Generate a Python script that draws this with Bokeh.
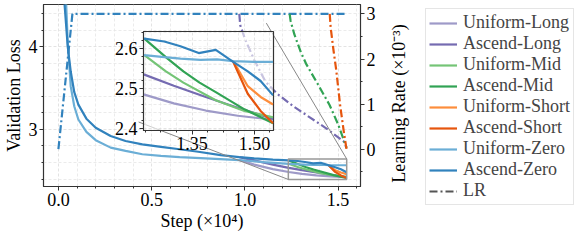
import math
from bokeh.plotting import figure
from bokeh.models import Range1d, LinearAxis, FixedTicker, Legend, LegendItem, Label
from bokeh.embed import file_html
from bokeh.resources import INLINE

# ---------------- data (steps in 1e4, loss, lr in 1e-3) ----------------
steps_az = [0.03, 0.05, 0.066, 0.085, 0.107, 0.15, 0.2, 0.28, 0.36, 0.45, 0.55, 0.65, 0.75, 0.87,
            0.97, 1.05, 1.15, 1.235, 1.283, 1.322, 1.366, 1.407, 1.449, 1.484, 1.515, 1.545]
loss_az = [4.6, 4.0, 3.7, 3.45, 3.30, 3.13, 3.02, 2.92, 2.86, 2.82, 2.79, 2.76, 2.73, 2.69,
           2.665, 2.65, 2.635, 2.625, 2.618, 2.606, 2.589, 2.597, 2.567, 2.543, 2.519, 2.483]

steps_uz = [0.04, 0.05, 0.066, 0.085, 0.107, 0.15, 0.2, 0.28, 0.36, 0.45, 0.55, 0.65, 0.79, 0.97,
            1.1, 1.235, 1.283, 1.322, 1.37, 1.41, 1.449, 1.5, 1.545]
loss_uz = [4.6, 4.05, 3.52, 3.28, 3.12, 2.97, 2.87, 2.78, 2.74, 2.70, 2.68, 2.665, 2.65, 2.63,
           2.605, 2.584, 2.579, 2.575, 2.572, 2.573, 2.569, 2.567, 2.567]

steps_al = [0.97, 1.05, 1.15, 1.235, 1.306, 1.383, 1.46, 1.545]
loss_al = [2.665, 2.625, 2.575, 2.535, 2.507, 2.479, 2.452, 2.424]
steps_ul = [0.97, 1.05, 1.15, 1.235, 1.306, 1.383, 1.46, 1.545]
loss_ul = [2.63, 2.575, 2.52, 2.485, 2.463, 2.445, 2.432, 2.422]

steps_am = [1.235, 1.291, 1.329, 1.368, 1.407, 1.476, 1.545]
loss_am = [2.625, 2.575, 2.543, 2.515, 2.491, 2.448, 2.413]
steps_um = [1.235, 1.287, 1.329, 1.407, 1.476, 1.545]
loss_um = [2.584, 2.543, 2.515, 2.471, 2.444, 2.428]

steps_as = [1.449, 1.484, 1.515, 1.545]
loss_as = [2.567, 2.487, 2.444, 2.413]
steps_us = [1.449, 1.484, 1.515, 1.545]
loss_us = [2.569, 2.506, 2.479, 2.46]

lr_zero_steps = [0.0, 0.075, 1.545]
lr_zero = [0.0, 3.0, 3.0]
lr_long_steps = [0.97, 0.975, 1.0, 1.05, 1.11, 1.17, 1.26, 1.35, 1.44, 1.53, 1.545]
lr_long = [3.0, 2.75, 2.45, 1.98, 1.50, 1.24, 0.95, 0.70, 0.45, 0.17, 0.03]
lr_mid_steps = [1.24, 1.245, 1.265, 1.30, 1.33, 1.39, 1.454, 1.50, 1.545]
lr_mid = [3.0, 2.85, 2.55, 2.15, 1.88, 1.45, 0.98, 0.55, 0.03]
lr_short_steps = [1.455, 1.46, 1.475, 1.49, 1.51, 1.53, 1.545]
lr_short = [3.0, 2.7, 2.2, 1.75, 1.0, 0.4, 0.0]

x_ticks = [0.0, 0.5, 1.0, 1.5]
x_tick_labels = ["0.0", "0.5", "1.0", "1.5"]
x_minor = [0.1, 0.2, 0.3, 0.4, 0.6, 0.7, 0.8, 0.9, 1.1, 1.2, 1.3, 1.4, 1.6]
y_ticks = [3, 4]
y_minor = [2.4, 2.6, 2.8, 3.2, 3.4, 3.6, 3.8, 4.2, 4.4]
lr_ticks = [0, 1, 2, 3]
lr_minor = [-0.5, 0.5, 1.5, 2.5]
ix_ticks = [1.35, 1.50]
ix_tick_labels = ["1.35", "1.50"]
ix_minor = [1.2375, 1.275, 1.3125, 1.3875, 1.425, 1.4625, 1.5375]
iy_ticks = [2.4, 2.5, 2.6]
iy_minor = [2.42, 2.44, 2.46, 2.48, 2.52, 2.54, 2.56, 2.58, 2.62, 2.64]

LR_LABEL = "Learning Rate (×10⁻³)"

# ---------------- style/layout config ----------------
FONT = "Liberation Serif"
FS = "18px"
XMIN, XMAX = -0.08, 1.62
YMIN, YMAX = 2.31, 4.51
LRMIN, LRMAX = -0.83, 3.21
IXLIM = (1.233, 1.546)
IYLIM = (2.395, 2.643)
INSET_X = (0.43, 1.115)
INSET_Y = (3.09, 4.285)
PAGE_MARGIN = 8
W, H = 566, 233
ML, MT, MB, MR = 38, 4, 47, 206
FW, FH = W - ML - MR, H - MT - MB
IL, IB, IT, IR = 34, 28, 2, 2
SIDE_OFFSET = 20          # side panel starts this far right of the main frame
SIDE_W = W - ML - FW - SIDE_OFFSET
LR_LABEL_X = 10           # centre of the rotated LR label inside the side panel
SIDE_XR, SIDE_YR = (0, 1), (-20, -19)   # side-panel ranges: keep its legend proxies off-screen

C = {
    "ul": "#9e9ac8", "al": "#756bb1", "um": "#74c476", "am": "#31a354",
    "us": "#fd8d3c", "as": "#e6550d", "uz": "#6baed6", "az": "#3182bd",
}
DASH = "8 3 2 3"
LW = 2.2


def style_axis(ax):
    ax.major_label_text_font = FONT
    ax.major_label_text_font_size = FS
    ax.major_label_text_color = "black"
    ax.axis_label_text_font = FONT
    ax.axis_label_text_font_size = FS
    ax.axis_label_text_font_style = "normal"
    ax.axis_label_text_color = "black"
    ax.axis_line_color = "#333333"
    ax.major_tick_line_color = "#333333"
    ax.minor_tick_line_color = "#333333"
    ax.major_tick_in = 0
    ax.major_tick_out = 4
    ax.minor_tick_in = 0
    ax.minor_tick_out = 2
    ax.major_label_standoff = 2
    ax.axis_label_standoff = 2


def style_grid(g):
    g.grid_line_color = "#dcdcdc"
    g.grid_line_dash = "3 2"
    g.grid_line_width = 0.8
    g.minor_grid_line_color = "#e6e6e6"
    g.minor_grid_line_dash = "3 2"
    g.minor_grid_line_width = 0.8


main = figure(width=W, height=H, title=None,
              x_range=Range1d(XMIN, XMAX), y_range=Range1d(YMIN, YMAX),
              output_backend="svg", toolbar_location=None,
              min_border_left=ML, min_border_top=MT, min_border_bottom=MB, min_border_right=MR)
main.extra_y_ranges = {"lr": Range1d(LRMIN, LRMAX)}
main.outline_line_color = "#333333"
main.outline_line_width = 1.2

main.xaxis.ticker = FixedTicker(ticks=x_ticks, minor_ticks=x_minor)
main.xaxis.major_label_overrides = dict(zip(x_ticks, x_tick_labels))
main.xaxis.axis_label = "Step (×10⁴)"
main.yaxis.ticker = FixedTicker(ticks=y_ticks, minor_ticks=y_minor)
main.yaxis.axis_label = "Validation Loss"
style_axis(main.xaxis[0])
style_axis(main.yaxis[0])
style_grid(main.xgrid[0])
style_grid(main.ygrid[0])

lr_axis = LinearAxis(y_range_name="lr", ticker=FixedTicker(ticks=lr_ticks, minor_ticks=lr_minor))
style_axis(lr_axis)
main.add_layout(lr_axis, "right")

series = [
    ("Uniform-Long", "ul", steps_ul, loss_ul),
    ("Ascend-Long", "al", steps_al, loss_al),
    ("Uniform-Mid", "um", steps_um, loss_um),
    ("Ascend-Mid", "am", steps_am, loss_am),
    ("Uniform-Short", "us", steps_us, loss_us),
    ("Ascend-Short", "as", steps_as, loss_as),
    ("Uniform-Zero", "uz", steps_uz, loss_uz),
    ("Ascend-Zero", "az", steps_az, loss_az),
]

for name, key, xs, ys in series:
    main.line(xs, ys, line_color=C[key], line_width=LW)

# learning rate curves
for xs, ys, key in [(lr_zero_steps, lr_zero, "az"), (lr_long_steps, lr_long, "al"),
                    (lr_mid_steps, lr_mid, "am"), (lr_short_steps, lr_short, "as")]:
    main.line(xs, ys, y_range_name="lr", line_color=C[key], line_width=LW, line_dash=DASH)

# zoom box and connectors
main.quad(left=[IXLIM[0]], right=[IXLIM[1]], bottom=[IYLIM[0]], top=[IYLIM[1]],
          fill_color=None, line_color="#999999", line_width=1.5)
main.segment(x0=[INSET_X[1], INSET_X[0]], y0=[INSET_Y[1], INSET_Y[0]],
             x1=[IXLIM[1], IXLIM[0]], y1=[IYLIM[1], IYLIM[0]],
             line_color="#888888", line_width=1)

# ---------------- inset ----------------
IW = round((INSET_X[1] - INSET_X[0]) / (XMAX - XMIN) * FW)
IH = round((INSET_Y[1] - INSET_Y[0]) / (YMAX - YMIN) * FH)
inset = figure(width=IL + IW + IR, height=IT + IH + IB, title=None,
               x_range=Range1d(*IXLIM), y_range=Range1d(*IYLIM),
               output_backend="svg", toolbar_location=None,
               min_border_left=IL, min_border_bottom=IB, min_border_top=IT, min_border_right=IR)
inset.border_fill_alpha = 0.0
inset.background_fill_color = "white"
inset.background_fill_alpha = 0.6
inset.outline_line_color = "#333333"
inset.outline_line_width = 1.2
inset.xaxis.ticker = FixedTicker(ticks=ix_ticks, minor_ticks=ix_minor)
inset.xaxis.major_label_overrides = dict(zip(ix_ticks, ix_tick_labels))
inset.yaxis.ticker = FixedTicker(ticks=iy_ticks, minor_ticks=iy_minor)
style_axis(inset.xaxis[0])
style_axis(inset.yaxis[0])
style_grid(inset.xgrid[0])
style_grid(inset.ygrid[0])
for name, key, xs, ys in series:
    inset.line(xs, ys, line_color=C[key], line_width=LW)

left_px = PAGE_MARGIN + ML + (INSET_X[0] - XMIN) / (XMAX - XMIN) * FW - IL
top_px = PAGE_MARGIN + MT + (YMAX - INSET_Y[1]) / (YMAX - YMIN) * FH - IT
inset.styles = {"position": "absolute", "left": f"{left_px:.1f}px", "top": f"{top_px:.1f}px",
                "width": f"{IL + IW + IR}px", "height": f"{IT + IH + IB}px"}

# ---------------- side panel: LR axis title + legend ----------------
side = figure(width=SIDE_W, height=H, title=None,
              x_range=Range1d(*SIDE_XR), y_range=Range1d(*SIDE_YR),
              output_backend="svg", toolbar_location=None,
              x_axis_location=None, y_axis_location=None,
              min_border_left=0, min_border_right=0, min_border_top=0, min_border_bottom=0)
side.grid.visible = False
side.outline_line_color = None
side.border_fill_alpha = 0.0
side.background_fill_alpha = 0.0

side.add_layout(Label(x=LR_LABEL_X, y=H - MT - FH / 2, x_units="screen", y_units="screen",
                      text=LR_LABEL, angle=math.pi / 2, text_align="center",
                      text_baseline="middle", text_font=FONT, text_font_size=FS,
                      text_color="black"))

# legend proxies: the same series, drawn outside this panel's visible ranges
items = []
for name, key, xs, ys in series:
    r = side.line(xs, ys, line_color=C[key], line_width=LW)
    items.append(LegendItem(label=name, renderers=[r]))
r_lr = side.line(lr_zero_steps, lr_zero, line_color="#555555", line_width=LW, line_dash=DASH)
items.append(LegendItem(label="LR", renderers=[r_lr]))

legend = Legend(items=items, location="top_right")
legend.label_text_font = FONT
legend.label_text_font_size = FS
legend.glyph_width = 28
legend.glyph_height = 20
legend.label_height = 20
legend.spacing = 0
legend.padding = 3
legend.label_standoff = 6
legend.margin = 0
legend.border_line_color = "#cccccc"
legend.border_line_width = 1
legend.background_fill_alpha = 1.0
side.add_layout(legend, "center")

side_left = PAGE_MARGIN + ML + FW + SIDE_OFFSET
side.styles = {"position": "absolute", "left": f"{side_left}px", "top": f"{PAGE_MARGIN}px",
               "width": f"{SIDE_W}px", "height": f"{H}px"}

open("out.html", "w").write(file_html([main, inset, side], INLINE))
